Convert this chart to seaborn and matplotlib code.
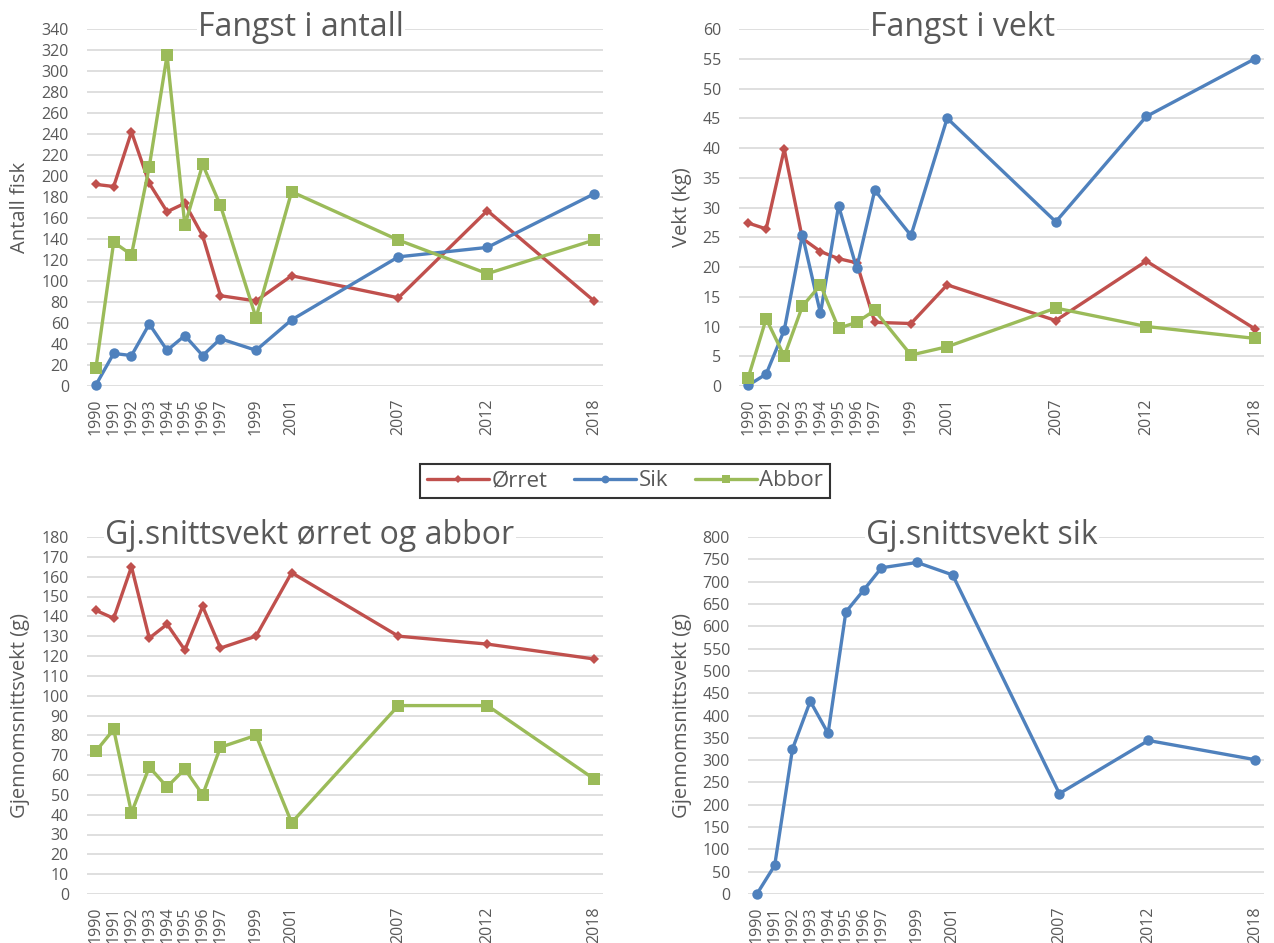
import numpy as np
import pandas as pd
import matplotlib
matplotlib.use("Agg")
import matplotlib.pyplot as plt
import seaborn as sns

# data
years = [1990, 1991, 1992, 1993, 1994, 1995, 1996, 1997, 1999, 2001, 2007, 2012, 2018]

antall_orret = [192, 190, 242, 193, 166, 174, 143, 86, 81, 105, 84, 167, 81]
antall_sik = [1, 31, 29, 59, 34, 48, 29, 45, 34, 63, 123, 132, 183]
antall_abbor = [17, 137, 125, 209, 315, 153, 211, 172, 65, 185, 139, 107, 139]

vekt_orret = [27.4, 26.4, 39.8, 24.8, 22.6, 21.4, 20.7, 10.7, 10.5, 17.0, 11.0, 21.0, 9.6]
vekt_sik = [0.1, 2.0, 9.4, 25.4, 12.2, 30.3, 19.8, 32.9, 25.3, 45.0, 27.6, 45.3, 55.0]
vekt_abbor = [1.3, 11.3, 5.0, 13.4, 17.0, 9.7, 10.7, 12.7, 5.2, 6.6, 13.1, 10.0, 8.0]

snitt_orret = [143, 139, 165, 129, 136, 123, 145, 124, 130, 162, 130, 126, 118.5]
snitt_abbor = [72, 83, 41, 64, 54, 63, 50, 74, 80, 36, 95, 95, 58]
snitt_sik = [0, 64, 325, 432, 360, 632, 681, 731, 743, 715, 225, 344, 301]

species = ["Ørret", "Sik", "Abbor"]
colors = {"Ørret": "#C0504D", "Sik": "#4F81BD", "Abbor": "#9BBB59"}
markers = {"Ørret": "D", "Sik": "o", "Abbor": "s"}
msizes = {"Ørret": 5.5, "Sik": 7.5, "Abbor": 8.5}

sns.set_style("white")
plt.rcParams["font.family"] = ["Open Sans", "DejaVu Sans"]

W, H = 1274, 943
fig = plt.figure(figsize=(W / 100, H / 100), dpi=100)
GREY = "#595959"


def px_axes(x0, y0, x1, y1):
    return fig.add_axes([x0 / W, 1 - y1 / H, (x1 - x0) / W, (y1 - y0) / H])


def draw(ax, series, ymax, step):
    for name, vals in series:
        df = pd.DataFrame({"year": years, "value": vals})
        sns.lineplot(data=df, x="year", y="value", ax=ax, color=colors[name],
                     marker=markers[name], markersize=msizes[name],
                     markeredgewidth=0, linewidth=2.4, label=name,
                     legend=False, clip_on=False, zorder=3)
    ax.set_xlim(1989.5, 2018.5)
    ax.set_ylim(0, ymax)
    ax.set_yticks(np.arange(0, ymax + step / 2, step))
    ax.set_xticks(years)
    ax.set_xticklabels([str(y) for y in years], rotation=90)
    ax.grid(axis="y", color="#d9d9d9", linewidth=1.2)
    ax.grid(axis="x", visible=False)
    ax.set_axisbelow(True)
    for s in ax.spines.values():
        s.set_visible(False)
    ax.tick_params(axis="both", length=0, colors=GREY, labelsize=11.5)
    ax.tick_params(axis="y", pad=13)
    ax.tick_params(axis="x", pad=9)
    ax.set_xlabel("")
    ax.set_ylabel("")


ax1 = px_axes(87, 29, 603, 386)
draw(ax1, [("Ørret", antall_orret), ("Sik", antall_sik), ("Abbor", antall_abbor)], 340, 20)

ax2 = px_axes(739, 29, 1264, 386)
draw(ax2, [("Ørret", vekt_orret), ("Sik", vekt_sik), ("Abbor", vekt_abbor)], 60, 5)

ax3 = px_axes(87, 537, 603, 894)
draw(ax3, [("Ørret", snitt_orret), ("Abbor", snitt_abbor)], 180, 10)

ax4 = px_axes(748, 537, 1264, 894)
draw(ax4, [("Sik", snitt_sik)], 800, 50)

# titles with white background over the top gridline
for text, cx, cy in [("Fangst i antall", 301, 27), ("Fangst i vekt", 963, 27),
                     ("Gj.snittsvekt ørret og abbor", 310, 535),
                     ("Gj.snittsvekt sik", 982, 535)]:
    fig.text(cx / W, 1 - cy / H, text, ha="center", va="center", fontsize=23,
             color=GREY, bbox=dict(fc="white", ec="none", pad=1), zorder=5)

for text, cx, cy in [("Antall fisk", 20, 207), ("Vekt (kg)", 682, 207),
                     ("Gjennomsnittsvekt (g)", 20, 715),
                     ("Gjennomsnittsvekt (g)", 682, 715)]:
    fig.text(cx / W, 1 - cy / H, text, ha="center", va="center", rotation=90,
             fontsize=14.5, color=GREY)

handles = ax1.get_lines()[:3]
leg = fig.legend(handles, species, loc="center", bbox_to_anchor=(625 / W, 1 - 481 / H),
                 ncol=3, fontsize=16, frameon=True, fancybox=False,
                 edgecolor="black", handlelength=2.8, columnspacing=1.2,
                 handletextpad=0.1, borderpad=0.3, labelcolor=GREY)
leg.get_frame().set_linewidth(1.5)
for h in leg.legend_handles:
    h.set_markersize(h.get_markersize() * 0.75)

fig.savefig("out.png", dpi=100)
plt.close(fig)
